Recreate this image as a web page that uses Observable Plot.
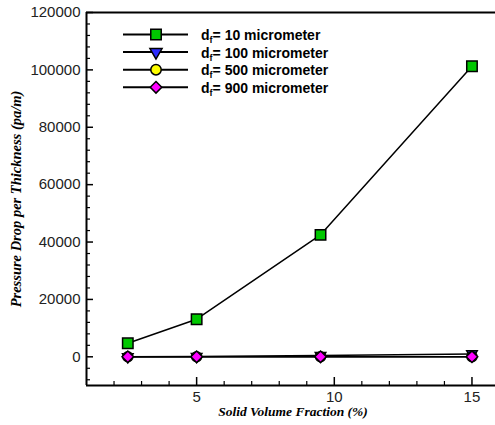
<!DOCTYPE html>
<html><head><meta charset="utf-8">
<script src="https://cdn.jsdelivr.net/npm/d3@7"></script>
<script src="https://cdn.jsdelivr.net/npm/@observablehq/plot@0.6"></script>
<style>html,body{margin:0;padding:0;overflow:hidden;background:#fff;width:495px} #chart{width:495px;height:425px;overflow:hidden} svg{max-width:none !important;display:block}</style>
</head><body><div id="chart"></div>
<script>
// ---- data ----
const fractions = [2.5, 5, 9.5, 15];                 // Solid Volume Fraction (%)
const diameters = ["10", "100", "500", "900"];       // fibre diameter (micrometer)
const dp10  = [4700, 13100, 42500, 101300];
const dp100 = [47, 131, 425, 1013];
const dp500 = [2, 5, 17, 41];
const dp900 = [1, 2, 5, 13];
const seriesValues = [dp10, dp100, dp500, dp900];
const colors  = ["#00c800", "#2d2dff", "#ffff00", "#ff00ff"];
const symbols = ["square", "triangle", "circle", "diamond2"];
const xDomain = [1, 16];
const yDomain = [-10000, 120000];
const yMajor = [0, 20000, 40000, 60000, 80000, 100000, 120000];
const yMinor = [-8000, -4000, 4000, 8000, 12000, 16000, 24000, 28000, 32000, 36000, 44000, 48000, 52000, 56000, 64000, 68000, 72000, 76000, 84000, 88000, 92000, 96000, 104000, 108000, 112000, 116000];
const xMajor = [5, 10, 15];
const xMinor = [2, 3, 4, 6, 7, 8, 9, 11, 12, 13, 14];
const xTitle = "Solid Volume Fraction (%)";
const yTitle = "Pressure Drop per Thickness (pa/m)";

const rows = [];
seriesValues.forEach((vals, s) => vals.forEach((v, i) => rows.push({s, d: diameters[s], x: fractions[i], y: v})));

const radius = [5.9, 3.9, 5.0, 5.2];
const seriesMarks = [];
diameters.forEach((d, s) => {
  const data = rows.filter(r => r.s === s);
  seriesMarks.push(Plot.line(data, {x: "x", y: "y", stroke: "#000", strokeWidth: 1.5}));
});
diameters.forEach((d, s) => {
  const data = rows.filter(r => r.s === s);
  seriesMarks.push(Plot.dot(data, {x: "x", y: "y", symbol: () => symbols[s], r: radius[s], fill: colors[s], stroke: "#000", strokeWidth: 1.5, rotate: s === 1 ? 180 : 0}));
});

const serif = "'Liberation Serif', 'Times New Roman', serif";
const chart = Plot.plot({
  width: 500, height: 425,
  marginLeft: 86, marginRight: 1, marginTop: 12, marginBottom: 40,
  x: {domain: xDomain},
  y: {domain: yDomain},
  style: {fontFamily: "'Liberation Sans', Arial, sans-serif", fontSize: "15px", color: "#222", background: "#fff", maxWidth: "none"},
  marks: [
    Plot.axisY(yMajor, {tickSize: 0, tickPadding: 6, tickFormat: d3.format("d"), label: null}),
    Plot.axisY(yMajor, {tickSize: -7, tickFormat: () => "", label: null, strokeWidth: 1.5, stroke: "#000"}),
    Plot.axisY(yMinor, {tickSize: -4, tickFormat: () => "", label: null, strokeWidth: 1.2, stroke: "#000"}),
    Plot.axisX(xMajor, {tickSize: 0, tickPadding: 6, tickFormat: d3.format("d"), label: null}),
    Plot.axisX(xMajor, {tickSize: -8, tickFormat: () => "", label: null, strokeWidth: 1.5, stroke: "#000"}),
    Plot.axisX(xMinor, {tickSize: -4, tickFormat: () => "", label: null, strokeWidth: 1.2, stroke: "#000"}),
    Plot.ruleX([xDomain[0]], {stroke: "#000", strokeWidth: 2}),
    Plot.ruleY(yDomain, {stroke: "#000", strokeWidth: 2}),
    ...seriesMarks,
    Plot.text([xTitle], {frameAnchor: "bottom", dy: 26, lineAnchor: "middle", textAnchor: "middle", text: d => d, fontFamily: serif, fontStyle: "italic", fontWeight: "bold", fontSize: 13.5, fill: "#000"}),
    Plot.text([yTitle], {frameAnchor: "left", dx: -70, rotate: -90, lineAnchor: "middle", textAnchor: "middle", text: d => d, fontFamily: serif, fontStyle: "italic", fontWeight: "bold", fontSize: 14.5, fill: "#000"})
  ]
});
document.getElementById("chart").appendChild(chart);

// ---- legend (inside the plot area, top-left) ----
const svg = d3.select(chart);
const lg = svg.append("g").attr("transform", "translate(123,34.5)");
const rowGap = 17.6;
const symFns = [d3.symbolSquare, d3.symbolTriangle, d3.symbolCircle, d3.symbolDiamond2];
const legendRadius = [5.9, 4.5, 5.2, 5.2];
diameters.forEach((d, s) => {
  const g = lg.append("g").attr("transform", `translate(0,${s * rowGap})`);
  g.append("line").attr("x1", 0).attr("x2", 65).attr("y1", 0).attr("y2", 0).attr("stroke", "#000").attr("stroke-width", 2);
  g.append("path").attr("d", d3.symbol(symFns[s], Math.PI * legendRadius[s] * legendRadius[s])())
    .attr("transform", `translate(33,0) rotate(${s === 1 ? 180 : 0})`)
    .attr("fill", colors[s]).attr("stroke", "#000").attr("stroke-width", 1.5);
  const t = g.append("text").attr("x", 78).attr("y", 5.5).attr("text-anchor", "start")
    .attr("font-family", "'Liberation Sans', Arial, sans-serif").attr("font-weight", "bold").attr("font-size", 14).attr("fill", "#000");
  t.append("tspan").text("d");
  t.append("tspan").attr("font-size", 9).attr("dy", 3).text("f");
  t.append("tspan").attr("dy", -3).text(`= ${d} micrometer`);
});
</script>
</body></html>
